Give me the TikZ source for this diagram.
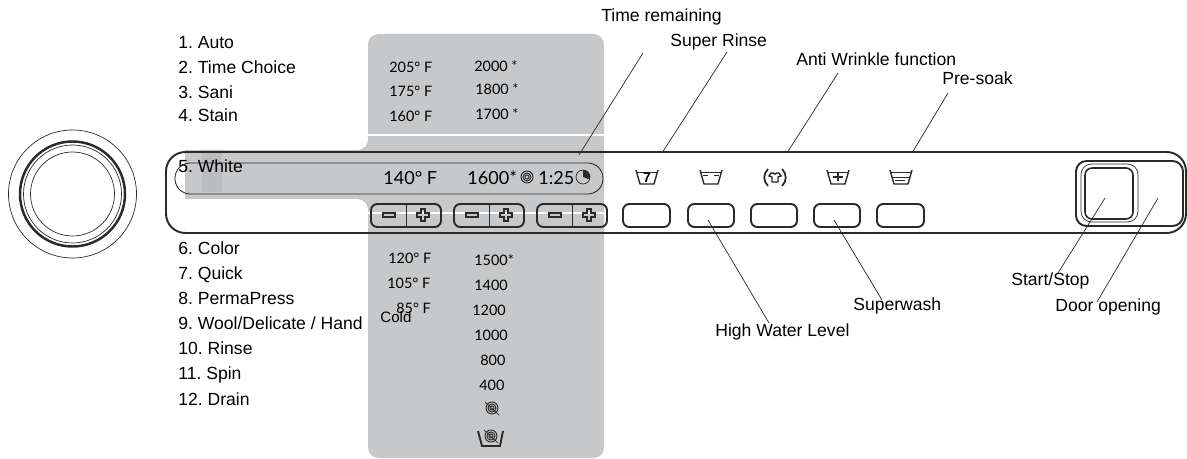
\documentclass[tikz,border=0pt]{standalone}
\usepackage{fontspec}
\setmainfont{Liberation Sans}
\newfontfamily\panelfont{Lato}
\usetikzlibrary{calc,positioning}
\definecolor{panelgray}{HTML}{C6C8CA}
\definecolor{stripgray}{HTML}{BBBCBF}
\definecolor{inkgray}{HTML}{2B2A29}
\frenchspacing
\tikzset{
  lab/.style={inner sep=0pt,text height=7.2pt,text depth=0pt,font=\fontsize{10}{12}\selectfont,text=black},
  val/.style={inner sep=0pt,text height=6pt,text depth=0pt,font=\panelfont\fontsize{8.2}{10}\selectfont,text=black},
  big/.style={inner sep=0pt,text height=7.5pt,text depth=0pt,font=\panelfont\fontsize{10.3}{13}\selectfont,text=black},
  lead/.style={draw=inkgray,line width=0.4pt},
  keyb/.style={draw=inkgray,line width=1.1pt,rounded corners=3.6pt},
  tub/.style={draw=inkgray,line width=0.8pt},
  thinp/.style={draw=inkgray,line width=0.4pt},
}
\begin{document}
\begin{tikzpicture}[x=0.02cm,y=-0.02cm]
\useasboundingbox (0,0) rectangle (1187,459);
% gray panel
\fill[panelgray,rounded corners=6pt] (368,120) -- (368,34) -- (604,34) -- (604,458) -- (368,458) -- (368,199)
  -- (300,199) [sharp corners] -- (185,199) -- (185,150) -- (300,150) [rounded corners=6pt] -- (368,150) -- cycle;
\fill[stripgray] (202,150) rectangle (222,192);
\draw[white,line width=0.7pt] (368,135) -- (604,135);
\draw[white,line width=0.7pt] (368,213) -- (604,213);
% knob
\coordinate (knob) at (72.5,194);
\draw[thinp] (knob) circle (64);
\draw[inkgray,line width=1.4pt] (knob) circle (52.5);
\draw[thinp] (knob) circle (49);
\draw[thinp] (knob) circle (42);
% control strip
\draw[inkgray,line width=1.1pt,rounded corners=11pt] (166,152) rectangle (1186,233);
\draw[inkgray,line width=0.5pt,rounded corners=8.7pt] (175,163) rectangle (603,194);
% minus plus keys
\foreach \kx in {371,454,537}{
  \draw[keyb] (\kx,204) rectangle ++(70,23);
  \draw[inkgray,line width=0.5pt] (\kx+35,204) -- (\kx+35,227);
  \draw[inkgray,line width=0.6pt] (\kx+12,213) rectangle (\kx+24,217);
  \draw[inkgray,line width=0.6pt] (\kx+46,213) -- (\kx+50,213) -- (\kx+50,209) -- (\kx+54,209) -- (\kx+54,213)
    -- (\kx+58,213) -- (\kx+58,217) -- (\kx+54,217) -- (\kx+54,221) -- (\kx+50,221) -- (\kx+50,217) -- (\kx+46,217) -- cycle;
}
% option keys
\foreach \kx/\kw in {623/47,688/46,751/46,814/46,877/47}{
  \draw[keyb] (\kx,204) rectangle ++(\kw,23);
}
% option icons
\foreach \tx in {647,711,838,901}{
  \draw[tub] (\tx-11,170) -- (\tx-7,184) -- (\tx+7,184) -- (\tx+11,170);
  \draw[thinp] (\tx-11,172) -- (\tx+11,172);
}
\node[inner sep=0pt,font=\bfseries\fontsize{8}{9}\selectfont] (seven) at (647,178) {7};
\draw[inkgray,line width=0.25pt,dashed] (703,175) -- (719,175);
\draw[tub,line width=1pt] (768,169) .. controls (763,174) and (763,181) .. (768,186);
\draw[tub,line width=1pt] (782,169) .. controls (787,174) and (787,181) .. (782,186);
\draw[tub] (771,173) -- (773,173) -- (775,174) -- (777,173) -- (779,173) -- (781,176) -- (778,177)
  -- (778,182) -- (772,182) -- (772,177) -- (769,176) -- cycle;
\draw[inkgray,line width=0.8pt] (833,177) -- (843,177) (838,172.5) -- (838,181.5);
\draw[thinp] (893,177) -- (909,177) (895,180.5) -- (905,180.5);
% door
\draw[inkgray,line width=1.1pt,rounded corners=6pt] (1076,161) rectangle (1183,226);
\draw[thinp,rounded corners=6pt] (1081,164) rectangle (1138,222);
\draw[inkgray,line width=0.9pt,rounded corners=4pt] (1085,168) rectangle (1133,219);
% left list
\foreach \yy/\txt/\nm in {42/{1. Auto}/pa,67/{2. Time Choice}/pb,92/{3. Sani}/pc,115/{4. Stain}/pd,166/{5. White}/pe,
   248/{6. Color}/pf,273/{7. Quick}/pg,298/{8. PermaPress}/ph,323/{9. Wool/Delicate / Hand}/pi,348/{10. Rinse}/pj,373/{11. Spin}/pk,399/{12. Drain}/pl}{
  \node[lab,anchor=west] (\nm) at (178,\yy) {\txt};
}
% temperatures
\node[val,anchor=west] (ta) at (389,67) {205° F};
\node[val,anchor=west] (tb) at (389,91) {175° F};
\node[val,anchor=west] (tc) at (389,116) {160° F};
\node[val,anchor=west] (td) at (388,258) {120° F};
\node[val,anchor=west] (te) at (387,283) {105° F};
\node[val,anchor=west] (tf) at (396,308) {85° F};
\node[lab,anchor=west,text height=6pt,font=\fontsize{8.6}{10}\selectfont] (tg) at (380,317) {Cold};
% spin speeds
\node[val,anchor=west] (sa) at (474,66) {2000 *};
\node[val,anchor=west] (sb) at (475,89) {1800 *};
\node[val,anchor=west] (sc) at (475,114) {1700 *};
\node[val,anchor=west] (sd) at (474,260) {1500*};
\node[val,anchor=west] (se) at (474,285) {1400};
\node[val,anchor=west] (sf) at (472,310) {1200};
\node[val,anchor=west] (sg) at (474,335) {1000};
\node[val,anchor=west] (sh) at (480,360) {800};
\node[val,anchor=west] (si) at (479,385) {400};
% spin marks
\foreach \rr in {2,4,6}{
  \draw[inkgray,line width=0.55pt] (527,177) circle (\rr);
  \draw[inkgray,line width=0.55pt] (492,408) circle (\rr);
  \draw[inkgray,line width=0.55pt] (491,436) circle (\rr);
}
\draw[thinp] (485,402) -- (499,415);
\draw[thinp] (484,430) -- (498,443);
\draw[inkgray,line width=1.1pt] (478,431) -- (482,446) -- (500,446) -- (503,431);
\draw[thinp] (583,177) circle (7);
\fill[inkgray] (583,177) -- (583,170) arc[start angle=-90,end angle=20,radius=7] -- cycle;
% display
\node[big,anchor=west] (dtemp) at (383,178) {140° F};
\node[big,anchor=west] (dspin) at (467,178) {1600*};
\node[big,anchor=west] (dtime) at (538,178) {1:25};
% leaders
\node[lab,anchor=west] (ltime) at (601,15) {Time remaining};
\node[lab,anchor=west] (lrinse) at (670,40) {Super Rinse};
\node[lab,anchor=west] (lwrinkle) at (796,59) {Anti Wrinkle function};
\node[lab,anchor=west] (lsoak) at (942,78) {Pre-soak};
\node[lab,anchor=west] (lwater) at (715,330) {High Water Level};
\node[lab,anchor=west] (lwash) at (853,304) {Superwash};
\node[lab,anchor=west] (lstart) at (1011,279) {Start/Stop};
\node[lab,anchor=west] (ldoor) at (1055,305) {Door opening};
\coordinate (ptime) at (579,155);
\coordinate (etime) at (643,53);
\coordinate (prinse) at (662,153);
\coordinate (erinse) at (727,52);
\coordinate (pwrinkle) at (787,153);
\coordinate (ewrinkle) at (838,73);
\coordinate (psoak) at (912,153);
\coordinate (esoak) at (948,93);
\coordinate (pwater) at (708,220);
\coordinate (ewater) at (769,323);
\coordinate (pwash) at (834,220);
\coordinate (ewash) at (882,300);
\coordinate (pstart) at (1105,198);
\coordinate (estart) at (1058,273);
\coordinate (pdoor) at (1158,198);
\coordinate (edoor) at (1097,302);
\draw[lead] (ptime) -- (etime);
\draw[lead] (prinse) -- (erinse);
\draw[lead] (pwrinkle) -- (ewrinkle);
\draw[lead] (psoak) -- (esoak);
\draw[lead] (pwater) -- (ewater);
\draw[lead] (pwash) -- (ewash);
\draw[lead] (pstart) -- (estart);
\draw[lead] (pdoor) -- (edoor);
\end{tikzpicture}
\end{document}
